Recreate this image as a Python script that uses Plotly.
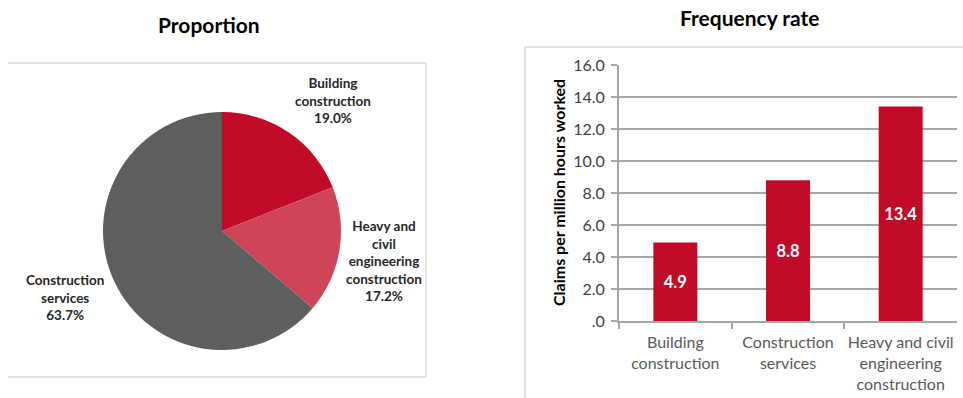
import plotly.graph_objects as go

W, H = 963, 398

# Share of claims by industry sub-sector
pie_labels = ["Building construction", "Heavy and civil engineering construction", "Construction services"]
pie_label_lines = [["Building", "construction"],
                   ["Heavy and", "civil", "engineering", "construction"],
                   ["Construction", "services"]]
pie_values = [19.0, 17.2, 63.7]
pie_colors = ["#C00A27", "#CE4559", "#5E5E5E"]

# Frequency rate by sub-sector
bar_categories = ["Building<br>construction", "Construction<br>services",
                  "Heavy and civil<br>engineering<br>construction"]
bar_values = [4.9, 8.8, 13.4]
y_tick_vals = [0, 2, 4, 6, 8, 10, 12, 14, 16]
y_tick_text = [".0", "2.0", "4.0", "6.0", "8.0", "10.0", "12.0", "14.0", "16.0"]

FONT = "Lato"


def px(x):
    return x / W


def py(y):
    return 1 - y / H


fig = go.Figure()

fig.add_trace(go.Pie(
    labels=pie_labels,
    values=pie_values,
    marker=dict(colors=pie_colors, line=dict(width=0)),
    sort=False,
    direction="clockwise",
    rotation=0,
    textinfo="none",
    hoverinfo="label+percent",
    showlegend=False,
    automargin=False,
    domain=dict(x=[px(103), px(341)], y=[py(350), py(112)]),
))

fig.add_trace(go.Bar(
    x=bar_categories,
    y=bar_values,
    marker=dict(color="#C00A27", line=dict(width=0)),
    text=[f"{v:.1f}" for v in bar_values],
    textposition="inside",
    insidetextanchor="middle",
    textfont=dict(family=FONT, size=16.5, color="white", weight="bold"),
    showlegend=False,
    xaxis="x", yaxis="y",
))

grid = "#A6A6A6"
fig.update_layout(
    width=W, height=H,
    margin=dict(l=0, r=0, t=0, b=0, pad=0, autoexpand=False),
    paper_bgcolor="white",
    plot_bgcolor="white",
    bargap=0.61,
    xaxis=dict(
        domain=[px(619), px(957)],
        anchor="y",
        automargin=False,
        showline=True, linecolor=grid, linewidth=2,
        ticks="outside", tickson="boundaries", ticklen=6, tickcolor=grid, tickwidth=2,
        tickfont=dict(family=FONT, size=16, color="#595959"),
        ticklabelstandoff=6,
        showgrid=False,
    ),
    yaxis=dict(
        domain=[py(321), py(65)],
        anchor="x",
        automargin=False,
        range=[0, 16],
        tickvals=y_tick_vals, ticktext=y_tick_text,
        showline=True, linecolor=grid, linewidth=2,
        ticks="outside", ticklen=6, tickcolor=grid, tickwidth=2,
        tickfont=dict(family=FONT, size=16, color="#404040"),
        ticklabelstandoff=3,
        showgrid=True, gridcolor=grid, gridwidth=2,
        zeroline=False,
    ),
    font=dict(family=FONT),
)

# Panel frames
box = "#D9D9D9"
shapes = [
    dict(type="line", x0=px(8), x1=px(426), y0=py(63), y1=py(63)),
    dict(type="line", x0=px(426), x1=px(426), y0=py(63), y1=py(377)),
    dict(type="line", x0=px(8), x1=px(426), y0=py(377), y1=py(377)),
    dict(type="line", x0=px(525), x1=1, y0=py(47), y1=py(47)),
    dict(type="line", x0=px(525), x1=px(525), y0=py(47), y1=0),
]
for s in shapes:
    s.update(xref="paper", yref="paper", line=dict(color=box, width=1.5))
fig.update_layout(shapes=shapes)

ann = []
ann.append(dict(text="<b>Proportion</b>", x=px(209), y=py(25),
                font=dict(size=21, color="black")))
ann.append(dict(text="<b>Frequency rate</b>", x=px(750), y=py(17),
                font=dict(size=21, color="black")))
ann.append(dict(text="<b>Claims per million hours worked</b>", x=px(558), y=py(193),
                textangle=-90, font=dict(size=16, color="black")))

# Pie slice labels
label_pos = [(333, 101), (384, 261), (65, 297)]
for lines, v, (lx, ly) in zip(pie_label_lines, pie_values, label_pos):
    txt = "<br>".join(f"<b>{t}</b>" for t in lines + [f"{v:.1f}%"])
    ann.append(dict(text=txt, x=px(lx), y=py(ly), align="center",
                    font=dict(size=13.5, color="#262626")))

for a in ann:
    a.update(xref="paper", yref="paper", showarrow=False,
             xanchor="center", yanchor="middle")
    a["font"]["family"] = FONT
fig.update_layout(annotations=ann)

fig.write_html("out.html")
